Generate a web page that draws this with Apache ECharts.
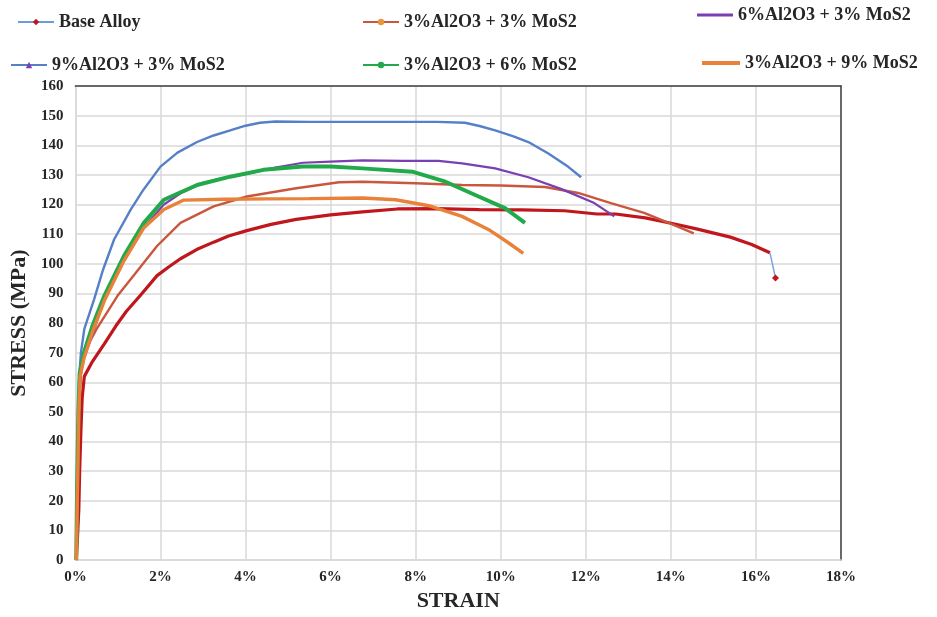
<!DOCTYPE html>
<html>
<head>
<meta charset="utf-8">
<script src="https://cdn.jsdelivr.net/npm/echarts@6/dist/echarts.min.js"></script>
<style>
  html, body { margin: 0; padding: 0; background: #ffffff; }
  #chart { width: 937px; height: 617px; }
</style>
</head>
<body>
<div id="chart"></div>
<script>
// Stress-strain curves: [strain %, stress MPa]
const baseAlloy = [[0.02,0],[0.05,8],[0.08,17],[0.1,30],[0.13,44],[0.16,55],[0.21,62],[0.4,67],[0.68,73],[0.95,79],[1.2,84],[1.53,89.4],[1.92,96],[2.2,99],[2.47,101.7],[2.85,104.8],[3.25,107.3],[3.6,109.4],[4.03,111.2],[4.6,113.3],[5.19,115],[6.0,116.5],[6.75,117.5],[7.57,118.5],[8.5,118.6],[9.5,118.3],[10.5,118.2],[11.5,117.9],[12.26,116.8],[12.7,116.8],[13.4,115.5],[14.06,113.5],[14.6,111.8],[15.4,109],[15.9,106.5],[16.33,103.7],[16.46,95.2]];
const al3mos3 = [[0.02,0],[0.05,25],[0.08,50],[0.12,62],[0.21,70.3],[0.5,78],[0.99,89.2],[1.3,94.8],[1.92,106],[2.47,113.8],[3.25,119.4],[4.03,122.7],[5.19,125.5],[6.2,127.5],[6.75,127.7],[8.0,127.2],[9.09,126.6],[10.0,126.4],[11.04,125.9],[11.82,123.9],[12.59,120.5],[13.37,117.2],[13.92,114],[14.54,110.3]];
const al6mos3 = [[0.02,0],[0.05,25],[0.08,50],[0.12,62],[0.2,68],[0.4,76],[0.68,88],[1.14,101],[1.61,112.2],[2.08,120],[2.5,124],[3.0,127.3],[3.5,129],[4.03,130.3],[4.7,132.5],[5.35,134.1],[6.0,134.5],[6.75,134.9],[7.69,134.7],[8.54,134.7],[9.09,133.9],[9.87,132.2],[10.65,129.2],[11.43,125.2],[12.2,120.5],[12.67,116]];
const al9mos3 = [[0.02,0],[0.04,20],[0.06,45],[0.09,62],[0.13,70],[0.17,74],[0.21,78],[0.44,88],[0.65,98],[0.91,108.2],[1.3,118.3],[1.6,125],[2.0,132.8],[2.4,137.5],[2.86,141.1],[3.25,143.3],[3.64,145],[4.0,146.6],[4.34,147.6],[4.7,148],[5.5,147.9],[6.5,147.9],[7.5,147.9],[8.5,147.9],[9.16,147.6],[9.5,146.5],[9.87,145],[10.3,143],[10.65,141.1],[11.11,137.3],[11.58,132.8],[11.89,129.2]];
const al3mos6 = [[0.02,0],[0.04,25],[0.07,50],[0.1,63],[0.2,70],[0.4,79],[0.68,89.2],[1.14,102.6],[1.61,113.8],[2.08,121.6],[2.86,126.6],[3.64,129.4],[4.42,131.7],[5.35,132.8],[6.0,132.8],[6.75,132.2],[7.92,131.1],[8.7,127.7],[9.48,122.7],[10.1,118.8],[10.57,113.8]];
const al3mos9 = [[0.02,0],[0.05,25],[0.08,50],[0.11,62],[0.2,68],[0.4,77],[0.68,87.5],[1.14,101],[1.61,112.2],[2.08,118.3],[2.55,121.5],[3.5,121.8],[4.5,121.9],[5.5,122],[6.75,122.2],[7.53,121.6],[8.31,119.6],[9.09,116],[9.71,111.6],[10.18,107.1],[10.53,103.5]];

const seriesNames = ['Base Alloy', '3%Al2O3 + 3% MoS2', '6%Al2O3 + 3% MoS2', '9%Al2O3 + 3% MoS2', '3%Al2O3 + 6% MoS2', '3%Al2O3 + 9% MoS2'];

const serif = '"Liberation Serif", "Times New Roman", serif';
const ink = '#262626';
const legendText = { fontFamily: serif, fontWeight: 'bold', fontSize: 18, color: ink };

// the fracture drop at the end of the base alloy curve
const fracture = baseAlloy.slice(-2);
const baseBody = baseAlloy.slice(0, -1);

function legendAt(name, left, top, extra) {
  return Object.assign({
    left: left, top: top, orient: 'horizontal', padding: 0,
    itemWidth: 36, itemHeight: 8, itemGap: 6,
    textStyle: legendText,
    data: [name]
  }, extra || {});
}

const chart = echarts.init(document.getElementById('chart'), null, { renderer: 'canvas' });
chart.setOption({
  animation: false,
  backgroundColor: '#ffffff',
  grid: { left: 71, right: 96, top: 86, bottom: 54 },
  legend: [
    legendAt({ name: seriesNames[0], itemStyle: { color: '#c0171d' }, lineStyle: { color: '#6d9bd8', width: 2 } }, 17, 13),
    legendAt({ name: seriesNames[1], itemStyle: { color: '#e8963a' } }, 362, 13),
    legendAt({ name: seriesNames[2], icon: 'rect' }, 697, 6, { itemGap: 14, itemHeight: 3 }),
    legendAt(seriesNames[3], 10, 56, { itemGap: 20 }),
    legendAt(seriesNames[4], 362, 56),
    legendAt({ name: seriesNames[5], icon: 'rect' }, 702, 54, { itemGap: 2, itemHeight: 4, itemWidth: 38 })
  ],
  xAxis: [{
    type: 'value', min: 0, max: 18, interval: 2,
    name: 'STRAIN', nameLocation: 'middle', nameGap: 29,
    nameTextStyle: { fontFamily: serif, fontWeight: 'bold', fontSize: 22, color: ink },
    axisLine: { show: true, onZero: false, lineStyle: { color: '#d9d9d9', width: 1.5 } },
    axisTick: { show: false },
    axisLabel: { formatter: v => v + '%', margin: 10, fontFamily: serif, fontWeight: 'bold', fontSize: 15, color: ink },
    splitLine: { show: true, lineStyle: { color: '#d9d9d9', width: 1.5 } }
  }, {
    type: 'value', position: 'top', min: 0, max: 18,
    axisLine: { show: true, onZero: false, lineStyle: { color: '#404040', width: 1.5 } },
    axisTick: { show: false }, axisLabel: { show: false }, splitLine: { show: false }
  }],
  yAxis: [{
    type: 'value', min: 0, max: 160, interval: 10,
    name: 'STRESS (MPa)', nameLocation: 'middle', nameGap: 36, nameRotate: 90,
    nameTextStyle: { fontFamily: serif, fontWeight: 'bold', fontSize: 22, color: ink },
    axisLine: { show: true, onZero: false, lineStyle: { color: '#d9d9d9', width: 1.5 } },
    axisTick: { show: false },
    axisLabel: { margin: 12, fontFamily: serif, fontWeight: 'bold', fontSize: 15, color: ink },
    splitLine: { show: true, lineStyle: { color: '#d9d9d9', width: 1.5 } }
  }, {
    type: 'value', position: 'right', min: 0, max: 160,
    axisLine: { show: true, onZero: false, lineStyle: { color: '#404040', width: 1.5 } },
    axisTick: { show: false }, axisLabel: { show: false }, splitLine: { show: false }
  }],
  series: [
    {
      name: seriesNames[0], type: 'line', data: baseBody, showSymbol: false,
      symbol: 'diamond', symbolSize: 7,
      lineStyle: { color: '#c0171d', width: 3.2 }, itemStyle: { color: '#c0171d' }, z: 3
    },
    {
      name: seriesNames[1], type: 'line', data: al3mos3, showSymbol: false,
      symbol: 'circle', symbolSize: 3,
      lineStyle: { color: '#c9573e', width: 2.4 }, itemStyle: { color: '#c9573e' }, z: 4
    },
    {
      name: seriesNames[2], type: 'line', data: al6mos3, showSymbol: false,
      symbol: 'none',
      lineStyle: { color: '#7a3fb0', width: 2.2 }, itemStyle: { color: '#7a3fb0' }, z: 4
    },
    {
      name: seriesNames[3], type: 'line', data: al9mos3, showSymbol: false,
      symbol: 'triangle', symbolSize: 4,
      lineStyle: { color: '#5580c8', width: 2.4 }, itemStyle: { color: '#7a3fb0' }, z: 4
    },
    {
      name: seriesNames[4], type: 'line', data: al3mos6, showSymbol: false,
      symbol: 'circle', symbolSize: 5,
      lineStyle: { color: '#22aa4a', width: 4 }, itemStyle: { color: '#22aa4a' }, z: 5
    },
    {
      name: seriesNames[5], type: 'line', data: al3mos9, showSymbol: false,
      symbol: 'none',
      lineStyle: { color: '#e8823a', width: 3.4 }, itemStyle: { color: '#e8823a' }, z: 5
    },
    {
      name: 'fracture', type: 'line', z: 3,
      data: [{ value: fracture[0], symbol: 'none' }, { value: fracture[1], symbol: 'diamond', symbolSize: 7 }],
      lineStyle: { color: '#7aa5dc', width: 1.5 }, itemStyle: { color: '#c0171d' }
    }
  ]
});
</script>
</body>
</html>
